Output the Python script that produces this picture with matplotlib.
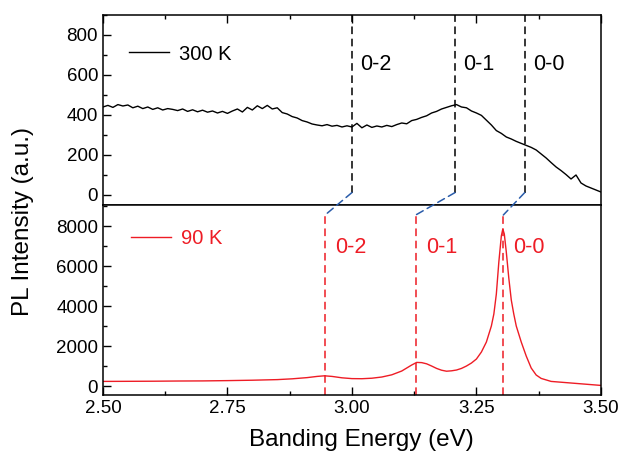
import matplotlib
matplotlib.use('Agg')
import matplotlib.pyplot as plt
from matplotlib.patches import ConnectionPatch
from matplotlib.ticker import MultipleLocator

plt.rcParams['font.family'] = ['Liberation Sans', 'DejaVu Sans']

# 300 K spectrum (top panel)
x_300 = [2.50, 2.51, 2.52, 2.53, 2.54, 2.55, 2.56, 2.57, 2.58, 2.59,
         2.60, 2.61, 2.62, 2.63, 2.64, 2.65, 2.66, 2.67, 2.68, 2.69,
         2.70, 2.71, 2.72, 2.73, 2.74, 2.75, 2.76, 2.77, 2.78, 2.79,
         2.80, 2.81, 2.82, 2.83, 2.84, 2.85, 2.86, 2.87, 2.88, 2.89,
         2.90, 2.91, 2.92, 2.93, 2.94, 2.95, 2.96, 2.97, 2.98, 2.99,
         3.00, 3.01, 3.02, 3.03, 3.04, 3.05, 3.06, 3.07, 3.08, 3.09,
         3.10, 3.11, 3.12, 3.13, 3.14, 3.15, 3.16, 3.17, 3.18, 3.19,
         3.20, 3.21, 3.22, 3.23, 3.24, 3.25, 3.26, 3.27, 3.28, 3.29,
         3.30, 3.31, 3.32, 3.33, 3.34, 3.35, 3.36, 3.37, 3.38, 3.39,
         3.40, 3.41, 3.42, 3.43, 3.44, 3.45, 3.46, 3.47, 3.48, 3.49, 3.50]
y_300 = [440, 448, 438, 452, 445, 450, 436, 444, 432, 440,
         428, 436, 425, 432, 428, 422, 430, 418, 426, 416,
         424, 414, 420, 410, 418, 408, 420, 430, 415, 438,
         425, 446, 432, 448, 430, 436, 412, 405, 392, 385,
         372, 365, 355, 350, 346, 352, 344, 348, 340, 346,
         340, 358, 336, 350, 338, 345, 340, 348, 342, 352,
         360, 356, 372, 378, 388, 396, 410, 418, 430, 438,
         446, 452, 440, 436, 420, 410, 398, 374, 350, 322,
         308, 290, 280, 268, 258, 248, 238, 225, 205, 185,
         162, 140, 122, 102, 80, 100, 60, 45, 35, 25, 15]

# 90 K spectrum (bottom panel)
x_90 = [2.50, 2.55, 2.60, 2.65, 2.70, 2.75, 2.80, 2.85, 2.88, 2.91,
        2.93, 2.945, 2.96, 2.98, 3.00, 3.02, 3.04, 3.06, 3.08, 3.10,
        3.12, 3.13, 3.14, 3.15, 3.16, 3.17, 3.18, 3.19, 3.20, 3.21,
        3.22, 3.23, 3.24, 3.25, 3.26, 3.27, 3.28, 3.285, 3.29, 3.295,
        3.30, 3.303, 3.306, 3.31, 3.315, 3.32, 3.325, 3.33, 3.34, 3.35,
        3.36, 3.37, 3.38, 3.40, 3.43, 3.46, 3.50]
y_90 = [230, 235, 240, 250, 255, 270, 290, 320, 360, 420,
        480, 510, 480, 410, 370, 365, 390, 450, 560, 750,
        1050, 1180, 1170, 1110, 1000, 880, 790, 740, 760, 800,
        880, 1000, 1150, 1350, 1700, 2200, 3000, 3600, 4600, 6200,
        7500, 7850, 7600, 6700, 5400, 4300, 3600, 3000, 2200, 1500,
        900, 550, 380, 230, 170, 110, 30]

# vibronic transitions
labels = ['0-2', '0-1', '0-0']
e_300 = [3.00, 3.207, 3.347]
e_90 = [2.946, 3.128, 3.304]

red = '#ee1c25'
fig = plt.figure(figsize=(6.24, 4.53), dpi=100)
ax1 = fig.add_axes([0.165, 0.5475, 0.798, 0.4194])
ax2 = fig.add_axes([0.165, 0.128, 0.798, 0.4194])

ax1.plot(x_300, y_300, color='black', lw=1.0, label='300 K')
ax2.plot(x_90, y_90, color=red, lw=1.0, label='90 K')

ax1.set_ylim(-50, 900)
ax2.set_ylim(-450, 9050)
for ax in (ax1, ax2):
    ax.set_xlim(2.5, 3.5)
    ax.xaxis.set_major_locator(MultipleLocator(0.25))
    ax.xaxis.set_minor_locator(MultipleLocator(0.125))
    ax.tick_params(which='both', direction='in', labelsize=13.5, width=1.0)
    ax.tick_params(which='major', length=5.5)
    ax.tick_params(which='minor', length=3)
    for s in ax.spines.values():
        s.set_linewidth(1.1)

ax1.yaxis.set_major_locator(MultipleLocator(200))
ax1.yaxis.set_minor_locator(MultipleLocator(100))
ax1.tick_params(which='both', bottom=False, top=True, labelbottom=False)
ax2.yaxis.set_major_locator(MultipleLocator(2000))
ax2.yaxis.set_minor_locator(MultipleLocator(1000))

dash = (0, (5, 3))
for lab, e in zip(labels, e_300):
    ax1.plot([e, e], [12, 900], color='black', lw=1.1, linestyle=dash)
    ax1.text(e + 0.016, 650, lab, fontsize=15.5, va='center', ha='left')
for lab, e in zip(labels, e_90):
    ax2.plot([e, e], [-450, 8550], color=red, lw=1.1, linestyle=dash)
    ax2.text(e + 0.02, 6950, lab, fontsize=15.5, va='center', ha='left', color=red)

for e1, e2 in zip(e_300, e_90):
    con = ConnectionPatch(xyA=(e1, 12), coordsA=ax1.transData,
                          xyB=(e2, 8550), coordsB=ax2.transData,
                          color='#2a5caa', lw=1.1, linestyle=dash)
    fig.add_artist(con)

ax1.legend(loc='upper left', frameon=False, fontsize=14.5, handlelength=2.0,
           handletextpad=0.5, bbox_to_anchor=(0.015, 0.94))
ax2.legend(loc='upper left', frameon=False, fontsize=14.5, handlelength=2.0,
           handletextpad=0.5, bbox_to_anchor=(0.02, 0.97), labelcolor=red)

fig.text(23 / 624, 1 - 222 / 453, 'PL Intensity (a.u.)', rotation=90,
         fontsize=17.5, ha='center', va='center')
fig.text(361 / 624, 1 - 440 / 453, 'Banding Energy (eV)', fontsize=17.5,
         ha='center', va='center')

fig.savefig('out.png', dpi=100)
